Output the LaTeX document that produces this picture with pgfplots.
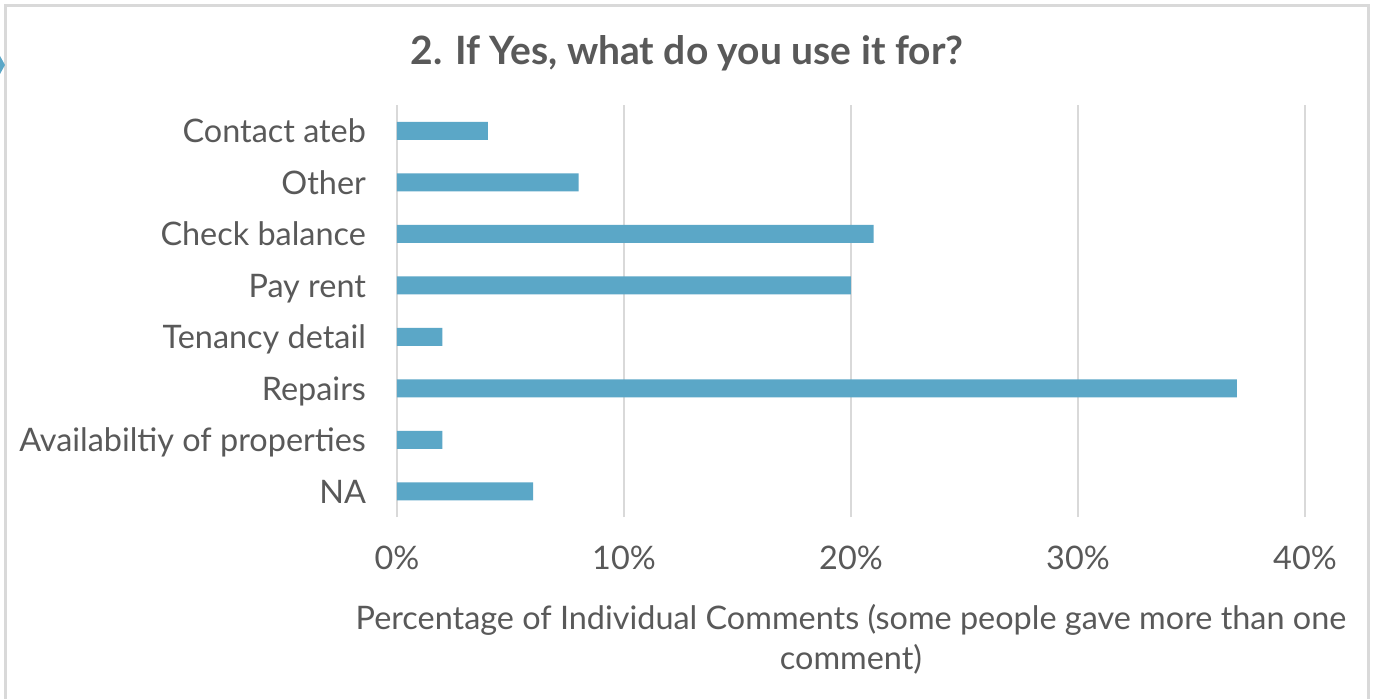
\documentclass[border=0pt]{standalone}
\usepackage{pgfplots}
\pgfplotsset{compat=1.18}
\usepackage{fontspec}
\setmainfont{Lato}
\definecolor{barblue}{HTML}{5BA7C7}
\definecolor{txt}{HTML}{595959}
\definecolor{gridc}{HTML}{D9D9D9}
\begin{document}
\begin{tikzpicture}[x=0.5pt,y=0.5pt]
\useasboundingbox (0,0) rectangle (1373,698);
\fill[white] (0,0) rectangle (1373,698);
\draw[gridc, line width=1.5pt] (5,-5) -- (5,692) -- (1368,692) -- (1368,-5);
\fill[barblue] (0,642) -- (5,633) -- (0,624) -- cycle;
\node[font=\bfseries\fontsize{19.5}{22}\selectfont, text=txt] at (687,645) {2. If Yes, what do you use it for?};
\begin{axis}[
  at={(198.5pt,90.5pt)}, anchor=south west,
  scale only axis, width=454pt, height=206pt,
  xmin=0, xmax=40, ymin=-0.5, ymax=7.5,
  xbar, bar width=9pt,
  ytick={0,...,7},
  yticklabels={NA, Availabiltiy of properties, Repairs, Tenancy detail, Pay rent, Check balance, Other, Contact ateb},
  xtick={0,10,20,30,40},
  xmajorgrids, grid style={gridc, line width=1pt},
  axis line style={draw=none},
  major tick length=0pt,
  tick label style={font=\fontsize{16.2}{19}\selectfont, text=txt},
  /pgf/number format/assume math mode=true,
  xticklabel={\pgfmathprintnumber{\tick}\%},
  yticklabel style={xshift=-12pt, yshift=-2.5pt, text height=0.72em, text depth=0pt},
  xticklabel style={yshift=-11pt},
  xlabel={Percentage of Individual Comments (some people gave more than one\\comment)},
  xlabel style={at={(axis description cs:0.5,0)}, anchor=north, yshift=-40pt, align=center, font=\fontsize{16.2}{20}\selectfont, text=txt},
]
\addplot[fill=barblue, draw=none] coordinates {
  (6,0) (2,1) (37,2) (2,3) (20,4) (21,5) (8,6) (4,7)
};
\end{axis}
\end{tikzpicture}
\end{document}
